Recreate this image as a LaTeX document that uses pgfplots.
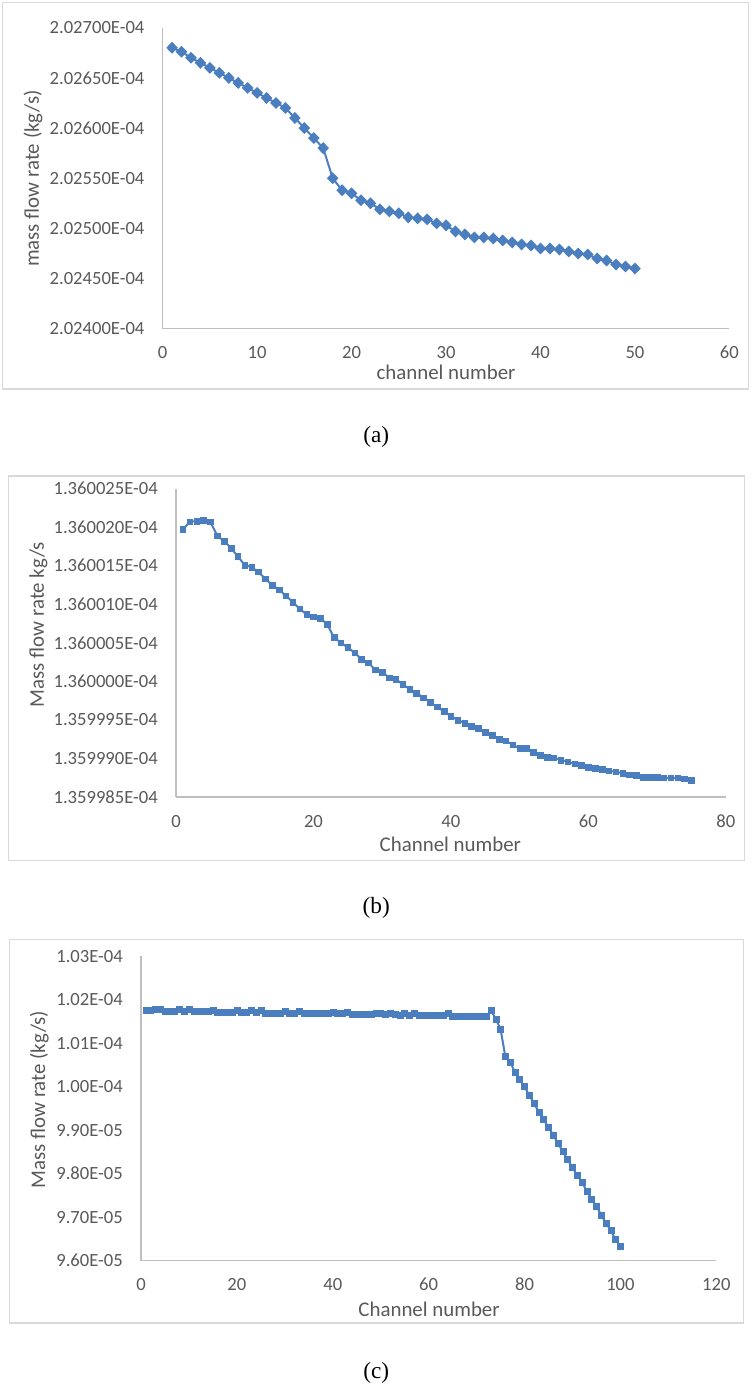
\documentclass[border=0pt]{standalone}
\usepackage{fontspec}
\setmainfont{Liberation Serif}
\newfontfamily\calibri{Carlito}
\usepackage{pgfplots}
\pgfplotsset{compat=1.18}

\definecolor{series}{HTML}{4A7EBF}
\definecolor{tickgray}{HTML}{595959}
\definecolor{axisgray}{HTML}{BFBFBF}
\definecolor{framegray}{HTML}{D9D9D9}

\pgfplotsset{
  excel/.style={
    scale only axis,
    axis lines=left,
    axis line style={-, draw=axisgray, line width=1.1pt},
    major tick length=0pt,
    ticklabel style={font=\calibri\fontsize{14}{16}\selectfont, text=tickgray, inner sep=0pt},
    yticklabel style={anchor=east, xshift=-13.5pt},
    xticklabel style={anchor=base, yshift=-22.5pt},
    /pgf/number format/assume math mode=true,
    scaled ticks=false,
    clip=false,
  },
  series/.style={color=series, line width=1.5pt,
    mark options={solid, fill=series, draw=series, line width=0.4pt}},
}
\newcommand{\titlefont}{\calibri\fontsize{15.7}{18}\selectfont}
\newcommand{\capfont}{\fontsize{17.5}{20}\selectfont}

\begin{document}
\begin{tikzpicture}
\path (0,0) rectangle (565.5pt,-1041pt);

% ---------------- (a) ----------------
\draw[framegray, line width=1.2pt] (1.9pt,-1.9pt) rectangle (562.5pt,-292.5pt);
% y = (mass flow rate - 2.02400E-04) in 1e-9 kg/s
\begin{axis}[excel, at={(122.25pt,-247.1pt)}, anchor=south west,
    width=426pt, height=226.3pt,
    xmin=0, xmax=60, xtick={0,10,...,60},
    ymin=0, ymax=300, ytick={0,50,...,300},
    yticklabels={2.02400E-04,2.02450E-04,2.02500E-04,2.02550E-04,2.02600E-04,2.02650E-04,2.02700E-04}]
\addplot[series, mark=diamond*, mark size=3.4pt, mark options={xscale=1.3}] table {
x y
1 280
2 276
3 270
4 265
5 260
6 255
7 250
8 245
9 240
10 235
11 230
12 225
13 220
14 210
15 200
16 190
17 180
18 150
19 138
20 135
21 128
22 125
23 119
24 117
25 115
26 111
27 110
28 109
29 105
30 103
31 97
32 94
33 91
34 91
35 90
36 88
37 86
38 84
39 83
40 80
41 80
42 79
43 77
44 75
45 74
46 70
47 68
48 64
49 62
50 60
};
\end{axis}
\node[rotate=90, text=tickgray, font=\titlefont] at (24.75pt,-134.25pt) {mass flow rate (kg/s)};
\node[text=tickgray, font=\titlefont] at (335.25pt,-279.75pt) {channel number};
\node[font=\capfont] at (282.75pt,-328.5pt) {(a)};

% ---------------- (b) ----------------
\draw[framegray, line width=1.2pt] (6.5pt,-357.75pt) rectangle (559.5pt,-646.9pt);
% y = (mass flow rate - 1.359985E-04) in 1e-12 kg/s
\begin{axis}[excel, at={(132.3pt,-599.1pt)}, anchor=south west,
    width=413.2pt, height=231.8pt,
    xmin=0, xmax=80, xtick={0,20,...,80},
    ymin=0, ymax=40, ytick={0,5,...,40},
    yticklabels={1.359985E-04,1.359990E-04,1.359995E-04,1.360000E-04,1.360005E-04,1.360010E-04,1.360015E-04,1.360020E-04,1.360025E-04}]
\addplot[series, mark=square*, mark size=2.1pt] table {
x y
1 34.7
2 35.7
3 35.8
4 35.9
5 35.7
6 33.9
7 33.2
8 32.3
9 31.2
10 30.1
11 29.8
12 29.2
13 28.3
14 27.5
15 26.9
16 26.1
17 25.3
18 24.4
19 23.7
20 23.4
21 23.2
22 22.4
23 20.7
24 20.0
25 19.4
26 18.7
27 17.9
28 17.4
29 16.5
30 16.2
31 15.5
32 15.3
33 14.6
34 14.0
35 13.5
36 12.9
37 12.3
38 11.7
39 11.1
40 10.5
41 10.0
42 9.6
43 9.2
44 8.9
45 8.4
46 8.0
47 7.5
48 7.3
49 6.8
50 6.3
51 6.3
52 5.8
53 5.4
54 5.2
55 5.1
56 4.8
57 4.6
58 4.3
59 4.1
60 3.9
61 3.7
62 3.6
63 3.4
64 3.3
65 3.1
66 2.9
67 2.8
68 2.6
69 2.6
70 2.6
71 2.5
72 2.5
73 2.5
74 2.4
75 2.2
};
\end{axis}
\node[rotate=90, text=tickgray, font=\titlefont] at (28.9pt,-469.5pt) {Mass flow rate kg/s};
\node[text=tickgray, font=\titlefont] at (338.5pt,-634.5pt) {Channel number};
\node[font=\capfont] at (282.75pt,-682.5pt) {(b)};

% ---------------- (c) ----------------
\draw[framegray, line width=1.2pt] (7.2pt,-706.3pt) rectangle (558.75pt,-994.5pt);
\begin{axis}[excel, at={(106pt,-947.5pt)}, anchor=south west,
    width=432.4pt, height=228.75pt,
    xmin=0, xmax=120, xtick={0,20,...,120},
    ymin=9.6e-5, ymax=1.03e-4,
    ytick={9.6e-5,9.7e-5,9.8e-5,9.9e-5,1.0e-4,1.01e-4,1.02e-4,1.03e-4},
    yticklabels={9.60E-05,9.70E-05,9.80E-05,9.90E-05,1.00E-04,1.01E-04,1.02E-04,1.03E-04}]
\addplot[series, mark=square*, mark size=2.25pt] table {
x y
1 1.0175e-4
2 1.0175e-4
3 1.0179e-4
4 1.0178e-4
5 1.0174e-4
6 1.0174e-4
7 1.0174e-4
8 1.0178e-4
9 1.0174e-4
10 1.0177e-4
11 1.0173e-4
12 1.0173e-4
13 1.0173e-4
14 1.0173e-4
15 1.0176e-4
16 1.0172e-4
17 1.0172e-4
18 1.0172e-4
19 1.0172e-4
20 1.0176e-4
21 1.0171e-4
22 1.0171e-4
23 1.0175e-4
24 1.0171e-4
25 1.0175e-4
26 1.0170e-4
27 1.0170e-4
28 1.0170e-4
29 1.0170e-4
30 1.0174e-4
31 1.0170e-4
32 1.0169e-4
33 1.0173e-4
34 1.0169e-4
35 1.0169e-4
36 1.0169e-4
37 1.0168e-4
38 1.0168e-4
39 1.0168e-4
40 1.0172e-4
41 1.0168e-4
42 1.0168e-4
43 1.0171e-4
44 1.0167e-4
45 1.0167e-4
46 1.0167e-4
47 1.0167e-4
48 1.0166e-4
49 1.0170e-4
50 1.0170e-4
51 1.0166e-4
52 1.0170e-4
53 1.0166e-4
54 1.0165e-4
55 1.0169e-4
56 1.0165e-4
57 1.0169e-4
58 1.0165e-4
59 1.0164e-4
60 1.0164e-4
61 1.0164e-4
62 1.0164e-4
63 1.0164e-4
64 1.0168e-4
65 1.0163e-4
66 1.0163e-4
67 1.0163e-4
68 1.0163e-4
69 1.0163e-4
70 1.0162e-4
71 1.0162e-4
72 1.0162e-4
73 1.0175e-4
74 1.0156e-4
75 1.0132e-4
76 1.0069e-4
77 1.0056e-4
78 1.0034e-4
79 1.0016e-4
80 1.0000e-4
81 0.9980e-4
82 0.9961e-4
83 0.9942e-4
84 0.9924e-4
85 0.9906e-4
86 0.9889e-4
87 0.9869e-4
88 0.9851e-4
89 0.9832e-4
90 0.9814e-4
91 0.9796e-4
92 0.9780e-4
93 0.9759e-4
94 0.9742e-4
95 0.9725e-4
96 0.9705e-4
97 0.9686e-4
98 0.9669e-4
99 0.9648e-4
100 0.9633e-4
};
\end{axis}
\node[rotate=90, text=tickgray, font=\titlefont] at (29.5pt,-826.5pt) {Mass flow rate (kg/s)};
\node[text=tickgray, font=\titlefont] at (322.5pt,-984pt) {Channel number};
\node[font=\capfont] at (282.75pt,-1032pt) {(c)};
\end{tikzpicture}
\end{document}
